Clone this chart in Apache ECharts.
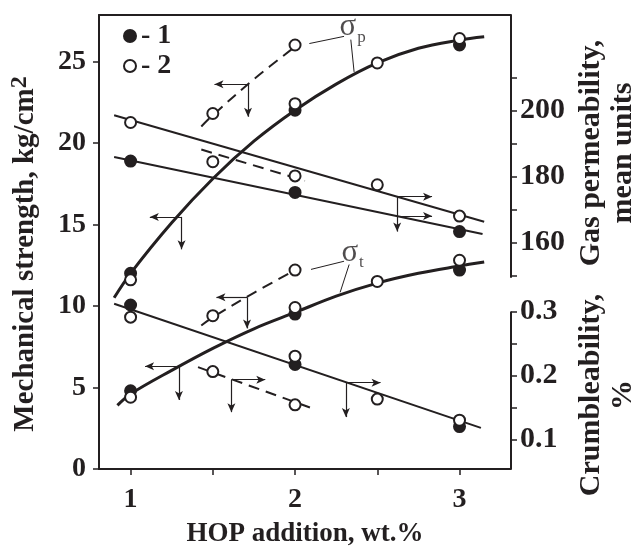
<!DOCTYPE html>
<html><head><meta charset="utf-8">
<script src="https://cdn.jsdelivr.net/npm/echarts@6/dist/echarts.min.js"></script>
<style>html,body{margin:0;padding:0;background:#fff}#c{width:635px;height:553px}</style>
</head><body><div id="c"></div>
<script>
// ---------- axis ticks / labels ----------
const xTicks = [1, 1.5, 2, 2.5, 3];
const xLabels = [1, 2, 3];
const leftTicks = [0, 5, 10, 15, 20, 25];
const gasTicks = [150, 160, 170, 180, 190, 200, 210];
const gasLabels = [160, 180, 200];
const crumbTicks = [0.1, 0.15, 0.2, 0.25, 0.3];
const crumbLabels = [0.1, 0.2, 0.3];

// ---------- mechanical strength (left axis) ----------
const sigmaP_fit = [[0.9,10.5],[1,12.0],[1.25,15.1],[1.5,17.8],[1.75,20.1],[2,22.0],[2.25,23.6],[2.5,24.9],[2.75,25.8],[3,26.3],[3.15,26.5]];
const sigmaP_1 = [[1,12.0],[2,22.0],[3,26.0]];
const sigmaP_2 = [[1,11.6],[2,22.4],[2.5,24.9],[3,26.4]];
const sigmaP_dash = [[1.43,21.0],[1.5,21.7],[1.75,23.9],[2,25.9]];
const sigmaP_dashPts = [[1.5,21.8],[2,26.0]];

const sigmaT_fit = [[0.92,3.9],[1,4.6],[1.25,6.05],[1.5,7.4],[1.75,8.6],[2,9.6],[2.25,10.6],[2.5,11.4],[2.75,12.0],[3,12.45],[3.15,12.7]];
const sigmaT_1 = [[1,4.8],[2,9.5],[3,12.2]];
const sigmaT_2 = [[1,4.4],[2,9.9],[2.5,11.5],[3,12.8]];
const sigmaT_dash = [[1.43,8.8],[1.5,9.3],[1.75,10.8],[2,12.2]];
const sigmaT_dashPts = [[1.5,9.4],[2,12.2]];

// ---------- gas permeability (right upper axis) ----------
const gas_line1 = [[0.9,185.9],[3.14,162.6]];
const gas_line2 = [[0.9,198.6],[3.15,166.3]];
const gas_1 = [[1,184.7],[2,175.2],[3,163.3]];
const gas_2 = [[1,196.4],[2,180.2],[2.5,177.5],[3,168.0]];
const gas_dash = [[1.43,188.2],[2.06,178.7]];
const gas_dashPts = [[1.5,184.5]];

// ---------- crumbleability (right lower axis) ----------
const crumb_line = [[0.9,0.312],[3.13,0.118]];
const crumb_1 = [[1,0.310],[2,0.217],[3,0.120]];
const crumb_2 = [[1,0.291],[2,0.230],[2.5,0.163],[3,0.130]];
const crumb_dash = [[1.41,0.213],[2.11,0.148]];
const crumb_dashPts = [[1.5,0.206],[2,0.154]];

// ---------- pointer arrows [x0,y0,x1,y1] ----------
const arrowsLeft = [[1.714,23.6,1.51,23.6],[1.714,23.6,1.714,21.6],[1.31,15.46,1.117,15.46],[1.31,15.46,1.31,13.47],
  [1.708,10.53,1.522,10.53],[1.708,10.53,1.708,8.62],[1.294,6.30,1.088,6.30],[1.294,6.30,1.294,4.23]];
const arrowsGas = [[2.621,173.9,2.833,173.9],[2.621,168.0,2.833,168.0],[2.621,173.9,2.621,163.3]];
const arrowsCrumb = [[1.613,0.1933,1.819,0.1933],[1.613,0.1933,1.613,0.1426],[2.309,0.1887,2.52,0.1887],[2.309,0.1887,2.309,0.1349]];
const leaders = [[2.087,26.09,2.298,26.53],[2.339,26.33,2.359,24.35],[2.097,12.24,2.298,12.74],[2.329,12.54,2.274,10.83]];
const sigmaLabels = [[2.35,27.1,'p'],[2.35,13.25,'t']];

const X_MIN = 0.808, X_MAX = 3.313;
const L_MIN = 0, L_MAX = 27.84;
const G_MIN = 91.3, G_MAX = 229;
const C_MIN = 0.0538, C_MAX = 0.763;
const G_BREAK = 149.3, C_BREAK = 0.3;

const INK = '#231f20';
const FONT = 'Liberation Serif';

function curve(data, yi, width, dashed, smooth) {
  return {type:'line', data, yAxisIndex:yi, symbol:'none', showSymbol:false, smooth: smooth ? 0.35 : false,
    lineStyle:{color:INK, width, type: dashed ? [11,7] : 'solid'}, silent:true, z:2, animation:false};
}
function pts(data, yi, filled) {
  return {type:'scatter', name: filled ? '1' : '2', data, yAxisIndex:yi, symbol:'circle', symbolSize:11,
    itemStyle:{color: filled ? INK : '#fff', borderColor:INK, borderWidth:2, opacity:1}, z:5, silent:true, animation:false};
}
function segs(list, yi, arrow, width) {
  return {type:'line', data:[], yAxisIndex:yi, clip:false, silent:true, animation:false,
    markLine:{silent:true, animation:false, symbol: arrow ? ['none','arrow'] : ['none','none'], symbolSize:[6,9],
      label:{show:false}, lineStyle:{color:INK, width, type:'solid'}, emphasis:{disabled:true},
      data: list.map(a => [{coord:[a[0],a[1]]},{coord:[a[2],a[3]]}])}};
}

const tickLabel = {color:INK, fontFamily:FONT, fontWeight:'bold', fontSize:28};

const option = {
  animation:false,
  backgroundColor:'#fff',
  grid:{left:97, top:15, width:414, height:461, show:false},
  legend:{data:['1','2'], left:118, top:17, orient:'vertical', itemGap:2, itemWidth:12, itemHeight:12,
    icon:'circle', formatter:'- {name}', selectedMode:false,
    textStyle:{color:INK, fontFamily:FONT, fontWeight:'bold', fontSize:28}},
  xAxis:[
    {type:'value', min:X_MIN, max:X_MAX, position:'bottom',
     name:'HOP addition, wt.%', nameLocation:'middle', nameGap:52,
     nameTextStyle:{color:INK, fontFamily:FONT, fontWeight:'bold', fontSize:27},
     axisLine:{show:true, onZero:false, lineStyle:{color:INK, width:2}},
     axisTick:{show:true, inside:false, length:6, customValues:xTicks, lineStyle:{color:INK, width:1.5}},
     axisLabel:{customValues:xLabels, margin:17, ...tickLabel},
     splitLine:{show:false}},
    {type:'value', min:X_MIN, max:X_MAX, position:'top',
     axisLine:{show:true, onZero:false, lineStyle:{color:INK, width:2}},
     axisTick:{show:false}, axisLabel:{show:false}, splitLine:{show:false}}
  ],
  yAxis:[
    {type:'value', min:L_MIN, max:L_MAX, position:'left',
     name:'{a|Mechanical strength, kg/cm}{b|2}', nameLocation:'middle', nameGap:55,
     nameTextStyle:{padding:[0,24,0,0], rich:{
       a:{color:INK, fontFamily:FONT, fontWeight:'bold', fontSize:29},
       b:{color:INK, fontFamily:FONT, fontWeight:'bold', fontSize:24, verticalAlign:'top', padding:[0,0,12,0]}}},
     axisLine:{show:true, onZero:false, lineStyle:{color:INK, width:2}},
     axisTick:{show:true, inside:false, length:6, customValues:leftTicks, lineStyle:{color:INK, width:1.5}},
     axisLabel:{customValues:leftTicks, margin:13, ...tickLabel},
     splitLine:{show:false}},
    {type:'value', min:G_MIN, max:G_MAX, position:'right',
     axisLine:{show:false},
     axisTick:{show:true, inside:false, length:6, customValues:gasTicks, lineStyle:{color:INK, width:1.5}},
     axisLabel:{customValues:gasLabels, margin:9, ...tickLabel, fontSize:30},
     splitLine:{show:false}},
    {type:'value', min:C_MIN, max:C_MAX, position:'right',
     axisLine:{show:false},
     axisTick:{show:true, inside:false, length:6, customValues:crumbTicks, lineStyle:{color:INK, width:1.5}},
     axisLabel:{customValues:crumbLabels, margin:9, formatter: v => v.toFixed(1), ...tickLabel, fontSize:30},
     splitLine:{show:false}}
  ],
  graphic:[
    {type:'text', x:607, y:153, rotation:Math.PI/2,
     style:{text:'Gas permeability,\nmean units', fill:INK, font:'bold 30px "Liberation Serif"', align:'center', verticalAlign:'middle', lineHeight:32}},
    {type:'text', x:607, y:395, rotation:Math.PI/2,
     style:{text:'Crumbleability,\n%', fill:INK, font:'bold 30px "Liberation Serif"', align:'center', verticalAlign:'middle', lineHeight:32}}
  ],
  series:[
    curve(sigmaP_fit, 0, 3, false, true),
    curve(sigmaP_dash, 0, 2, true, true),
    curve(sigmaT_fit, 0, 3, false, true),
    curve(sigmaT_dash, 0, 2, true, true),
    curve(gas_line1, 1, 2, false, false),
    curve(gas_line2, 1, 2, false, false),
    curve(gas_dash, 1, 2, true, false),
    curve(crumb_line, 2, 2, false, false),
    curve(crumb_dash, 2, 2, true, false),
    segs(arrowsLeft, 0, true, 1.2),
    segs(arrowsGas, 1, true, 1.2),
    segs(arrowsCrumb, 2, true, 1.2),
    segs(leaders, 0, false, 1),
    segs([[X_MAX, G_MAX, X_MAX, G_BREAK]], 1, false, 2),
    segs([[X_MAX, C_BREAK, X_MAX, C_MIN]], 2, false, 2),
    pts(sigmaP_1, 0, true), pts(sigmaT_1, 0, true), pts(gas_1, 1, true), pts(crumb_1, 2, true),
    pts(sigmaP_2, 0, false), pts(sigmaT_2, 0, false), pts(gas_2, 1, false), pts(crumb_2, 2, false),
    pts(sigmaP_dashPts, 0, false), pts(sigmaT_dashPts, 0, false), pts(gas_dashPts, 1, false), pts(crumb_dashPts, 2, false),
    {type:'scatter', data: sigmaLabels.map(s => [s[0], s[1], s[2]]), yAxisIndex:0, symbolSize:0, silent:true,
     label:{show:true, position:'inside', formatter: p => '{s|σ}{t|' + p.value[2] + '}',
       rich:{s:{fontFamily:FONT, fontSize:31, color:INK, verticalAlign:'bottom'},
             t:{fontFamily:FONT, fontSize:17, color:INK, verticalAlign:'bottom', padding:[0,0,-3,1]}}}}
  ]
};
const chart = echarts.init(document.getElementById('c'));
chart.setOption(option);
</script></body></html>
